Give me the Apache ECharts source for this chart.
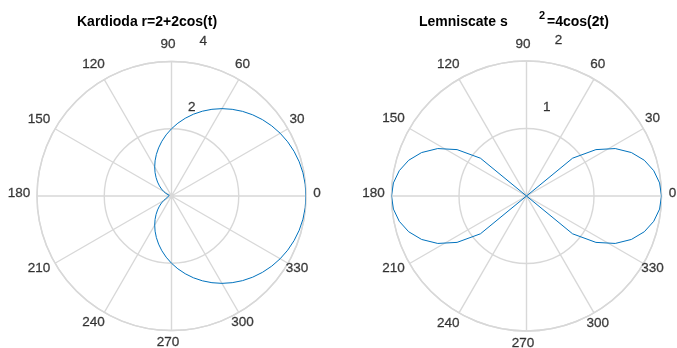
<!DOCTYPE html>
<html>
<head>
<meta charset="utf-8">
<script src="https://cdn.jsdelivr.net/npm/echarts@6/dist/echarts.min.js"></script>
<style>
  html, body { margin: 0; padding: 0; background: #ffffff; }
  #chart { width: 677px; height: 348px; }
</style>
</head>
<body>
<div id="chart"></div>
<script>
// Cardioid r = 2 + 2cos(t), sampled every 5 degrees
const cardioAngles = [
  0, 5, 10, 15, 20, 25, 30, 35, 40, 45, 50, 55, 60, 65, 70, 75, 80, 85, 90,
  95, 100, 105, 110, 115, 120, 125, 130, 135, 140, 145, 150, 155, 160, 165, 170, 175, 180,
  185, 190, 195, 200, 205, 210, 215, 220, 225, 230, 235, 240, 245, 250, 255, 260, 265, 270,
  275, 280, 285, 290, 295, 300, 305, 310, 315, 320, 325, 330, 335, 340, 345, 350, 355, 360
];
const cardioR = [
  4.000, 3.992, 3.970, 3.932, 3.879, 3.813, 3.732, 3.638, 3.532, 3.414, 3.286, 3.147, 3.000, 2.845, 2.684, 2.518, 2.347, 2.174, 2.000,
  1.826, 1.653, 1.482, 1.316, 1.155, 1.000, 0.853, 0.714, 0.586, 0.468, 0.362, 0.268, 0.187, 0.121, 0.068, 0.030, 0.008, 0.000,
  0.008, 0.030, 0.068, 0.121, 0.187, 0.268, 0.362, 0.468, 0.586, 0.714, 0.853, 1.000, 1.155, 1.316, 1.482, 1.653, 1.826, 2.000,
  2.174, 2.347, 2.518, 2.684, 2.845, 3.000, 3.147, 3.286, 3.414, 3.532, 3.638, 3.732, 3.813, 3.879, 3.932, 3.970, 3.992, 4.000
];

// Lemniscate s^2 = 4cos(2t), 64 steps around the circle
const lemniAngles = [
  0, 5.625, 11.25, 16.875, 22.5, 28.125, 33.75, 39.375, 45,
  50.625, 56.25, 61.875, 67.5, 73.125, 78.75, 84.375, 90,
  95.625, 101.25, 106.875, 112.5, 118.125, 123.75, 129.375, 135,
  140.625, 146.25, 151.875, 157.5, 163.125, 168.75, 174.375, 180,
  185.625, 191.25, 196.875, 202.5, 208.125, 213.75, 219.375, 225,
  230.625, 236.25, 241.875, 247.5, 253.125, 258.75, 264.375, 270,
  275.625, 281.25, 286.875, 292.5, 298.125, 303.75, 309.375, 315,
  320.625, 326.25, 331.875, 337.5, 343.125, 348.75, 354.375, 360
];
const lemniR = [
  2.000, 1.981, 1.922, 1.824, 1.682, 1.491, 1.237, 0.883, 0,
  0, 0, 0, 0, 0, 0, 0, 0,
  0, 0, 0, 0, 0, 0, 0, 0,
  0.883, 1.237, 1.491, 1.682, 1.824, 1.922, 1.981, 2.000,
  1.981, 1.922, 1.824, 1.682, 1.491, 1.237, 0.883, 0,
  0, 0, 0, 0, 0, 0, 0, 0,
  0, 0, 0, 0, 0, 0, 0, 0,
  0.883, 1.237, 1.491, 1.682, 1.824, 1.922, 1.981, 2.000
];

// Tick labels
const angleTicks = [0, 30, 60, 90, 120, 150, 180, 210, 240, 270, 300, 330];
const cardioRTicks = [2, 4];
const lemniRTicks = [1, 2];
const rTickAngle = 80;

const GRID = '#d8d8d8';
const TICK_COLOR = '#111111';
const LINE_COLOR = '#0072BD';
const FONT = '"Liberation Sans", Arial, Helvetica, sans-serif';

const tickText = {
  color: TICK_COLOR, fontSize: 13.5, fontFamily: FONT,
  textBorderColor: TICK_COLOR, textBorderWidth: 0.3
};

const panels = [
  { cx: 171.5, cy: 196, R: 134.5, rMax: 4, angles: cardioAngles, r: cardioR, rTicks: cardioRTicks },
  { cx: 526.5, cy: 196, R: 135, rMax: 2, angles: lemniAngles, r: lemniR, rTicks: lemniRTicks }
];

const polar = [], angleAxis = [], radiusAxis = [], series = [];

panels.forEach((p, i) => {
  const main = i * 2;      // grid rings, spokes and curve
  const lab = i * 2 + 1;   // ring for the angle tick labels

  polar.push({ center: [p.cx, p.cy], radius: p.R });
  polar.push({ center: [p.cx - 3.5, p.cy - 2.5], radius: p.R + 14.5 });

  angleAxis.push({
    polarIndex: main, type: 'value', min: 0, max: 360, interval: 30,
    startAngle: 0, clockwise: false,
    axisLine: { lineStyle: { color: GRID, width: 1.4 } },
    axisTick: { show: false },
    axisLabel: { show: false },
    splitLine: { show: true, lineStyle: { color: GRID, width: 1.4 } }
  });
  angleAxis.push({
    polarIndex: lab, type: 'value', min: 0, max: 360,
    startAngle: 0, clockwise: false, show: false
  });

  radiusAxis.push({
    polarIndex: main, type: 'value', min: 0, max: p.rMax, interval: p.rMax / 2,
    axisLine: { show: false }, axisTick: { show: false }, axisLabel: { show: false },
    splitLine: { show: true, lineStyle: { color: GRID, width: 1.4 } }
  });
  radiusAxis.push({ polarIndex: lab, type: 'value', min: 0, max: 1, show: false });

  series.push({
    type: 'line', coordinateSystem: 'polar', polarIndex: main,
    data: p.r.map((r, k) => [r, p.angles[k]]),
    showSymbol: false, clip: false, silent: true,
    lineStyle: { color: LINE_COLOR, width: 1 }
  });

  series.push({
    type: 'scatter', coordinateSystem: 'polar', polarIndex: lab,
    data: angleTicks.map(a => [1, a]),
    symbolSize: 1, silent: true,
    itemStyle: { color: 'rgba(0,0,0,0)' },
    label: Object.assign({
      show: true, position: 'inside',
      formatter: d => String(d.value[1])
    }, tickText)
  });

  series.push({
    type: 'scatter', coordinateSystem: 'polar', polarIndex: main,
    data: p.rTicks.map(r => [r, rTickAngle]),
    symbolSize: 1, silent: true,
    itemStyle: { color: 'rgba(0,0,0,0)' },
    label: Object.assign({
      show: true, position: 'inside', offset: [8.5, -22.5],
      formatter: d => String(d.value[0])
    }, tickText)
  });
});

const titleStyle = { fontSize: 14, fontWeight: 'bold', color: '#000000', fontFamily: FONT, lineHeight: 16 };

const chart = echarts.init(document.getElementById('chart'), null, { renderer: 'canvas' });
chart.setOption({
  animation: false,
  backgroundColor: '#ffffff',
  title: [
    { text: 'Kardioda r=2+2cos(t)', left: 77, top: 14, padding: 0, textStyle: titleStyle },
    { text: 'Lemniscate s', left: 419, top: 14, padding: 0, textStyle: titleStyle },
    { text: '2', left: 539, top: 9.5, padding: 0,
      textStyle: { fontSize: 11, fontWeight: 'bold', color: '#000000', fontFamily: FONT, lineHeight: 12 } },
    { text: '=4cos(2t)', left: 547, top: 14, padding: 0, textStyle: titleStyle }
  ],
  polar: polar,
  angleAxis: angleAxis,
  radiusAxis: radiusAxis,
  series: series
});
</script>
</body>
</html>
